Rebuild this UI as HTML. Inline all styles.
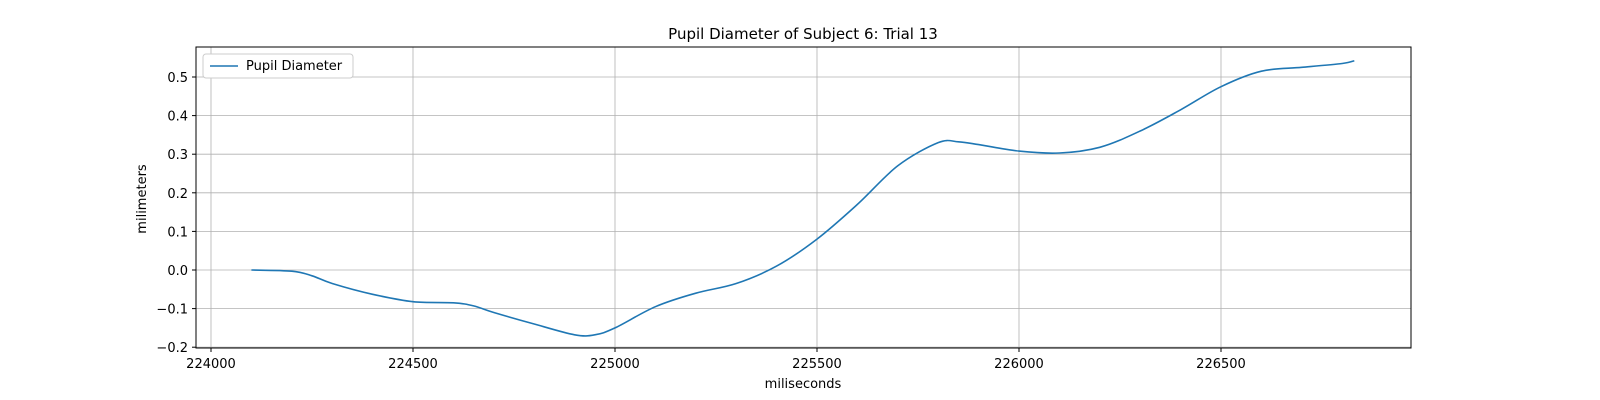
<!DOCTYPE html>
<html><head><meta charset="utf-8"><style>
html,body{margin:0;padding:0;width:1600px;height:400px;overflow:hidden;background:#fff;font-family:"Liberation Sans","DejaVu Sans",sans-serif}
svg{display:block}
svg text{font-family:"DejaVu Sans","Liberation Sans",sans-serif;font-size:13px;fill:#000}
</style></head><body>
<svg id="chart" width="1600" height="400">
<text x="803" y="39" text-anchor="middle" style="font-size:15px">Pupil Diameter of Subject 6: Trial 13</text>
<g id="grid"></g><g id="ticks"></g>
<path id="line" fill="none" stroke="#1f77b4" stroke-width="1.6"></path>
<rect x="196" y="47" width="1215" height="301" fill="none" stroke="#000" stroke-width="1"/>
<text x="803" y="388" text-anchor="middle">miliseconds</text>
<text transform="translate(146,199) rotate(-90)" text-anchor="middle">milimeters</text>
<g>
<rect x="203" y="54" width="150" height="24" rx="3" fill="#fff" stroke="#ccc"/>
<line x1="210" y1="66" x2="238" y2="66" stroke="#1f77b4" stroke-width="1.6"/>
<text x="246" y="70">Pupil Diameter</text>
</g>
</svg>
<script>
const xs=[224100,224200,224250,224300,224400,224500,224600,224650,224700,224800,224900,224950,225000,225100,225200,225300,225400,225500,225600,225700,225800,225850,225900,226000,226100,226200,226300,226400,226500,226600,226700,226800,226830];
const ys=[0,-0.003,-0.015,-0.035,-0.063,-0.082,-0.085,-0.093,-0.11,-0.14,-0.168,-0.168,-0.15,-0.095,-0.06,-0.035,0.01,0.08,0.17,0.27,0.33,0.332,0.325,0.308,0.303,0.318,0.36,0.415,0.475,0.515,0.525,0.535,0.542];
const xTicks=[224000,224500,225000,225500,226000,226500];
const yTicks=[-0.2,-0.1,0.0,0.1,0.2,0.3,0.4,0.5];
const X=v=>211+(v-224000)*0.404;
const Y=v=>270-386*v;
const NS="http://www.w3.org/2000/svg";
const g=document.getElementById('grid'),t=document.getElementById('ticks');
xTicks.forEach(v=>{
 const l=document.createElementNS(NS,'line');
 l.setAttribute('x1',X(v));l.setAttribute('x2',X(v));l.setAttribute('y1',47);l.setAttribute('y2',348);
 l.setAttribute('stroke','#b0b0b0');l.setAttribute('stroke-width','0.8');
 
 
 g.appendChild(l);
 const k=document.createElementNS(NS,'line');
 k.setAttribute('x1',X(v));k.setAttribute('x2',X(v));k.setAttribute('y1',348);k.setAttribute('y2',352);k.setAttribute('stroke','#000');
 
 
 t.appendChild(k);
 const s=document.createElementNS(NS,'text');
 s.setAttribute('x',X(v));s.setAttribute('y',368);s.setAttribute('text-anchor','middle');s.textContent=v;
 
 
 t.appendChild(s);
});
yTicks.forEach(v=>{
 const l=document.createElementNS(NS,'line');
 l.setAttribute('x1',196);l.setAttribute('x2',1411);l.setAttribute('y1',Y(v));l.setAttribute('y2',Y(v));
 l.setAttribute('stroke','#b0b0b0');l.setAttribute('stroke-width','0.8');
 
 
 g.appendChild(l);
 const k=document.createElementNS(NS,'line');
 k.setAttribute('x1',192);k.setAttribute('x2',196);k.setAttribute('y1',Y(v));k.setAttribute('y2',Y(v));k.setAttribute('stroke','#000');
 
 
 t.appendChild(k);
 const s=document.createElementNS(NS,'text');
 s.setAttribute('x',188);s.setAttribute('y',Y(v)+5);s.setAttribute('text-anchor','end');
 s.textContent=(v<0?'\u2212':'')+Math.abs(v).toFixed(1);
 
 
 t.appendChild(s);
});
const P=xs.map((x,i)=>[X(x),Y(ys[i])]);
let d='M'+P[0][0].toFixed(1)+' '+P[0][1].toFixed(1);
for(let i=0;i<P.length-1;i++){
 const p0=P[Math.max(0,i-1)],p1=P[i],p2=P[i+1],p3=P[Math.min(P.length-1,i+2)];
 const c1=[p1[0]+(p2[0]-p0[0])/6,p1[1]+(p2[1]-p0[1])/6];
 const c2=[p2[0]-(p3[0]-p1[0])/6,p2[1]-(p3[1]-p1[1])/6];
 d+=' C'+c1[0].toFixed(1)+' '+c1[1].toFixed(1)+' '+c2[0].toFixed(1)+' '+c2[1].toFixed(1)+' '+p2[0].toFixed(1)+' '+p2[1].toFixed(1);
}
document.getElementById('line').setAttribute('d',d);
</script>
</body></html>
